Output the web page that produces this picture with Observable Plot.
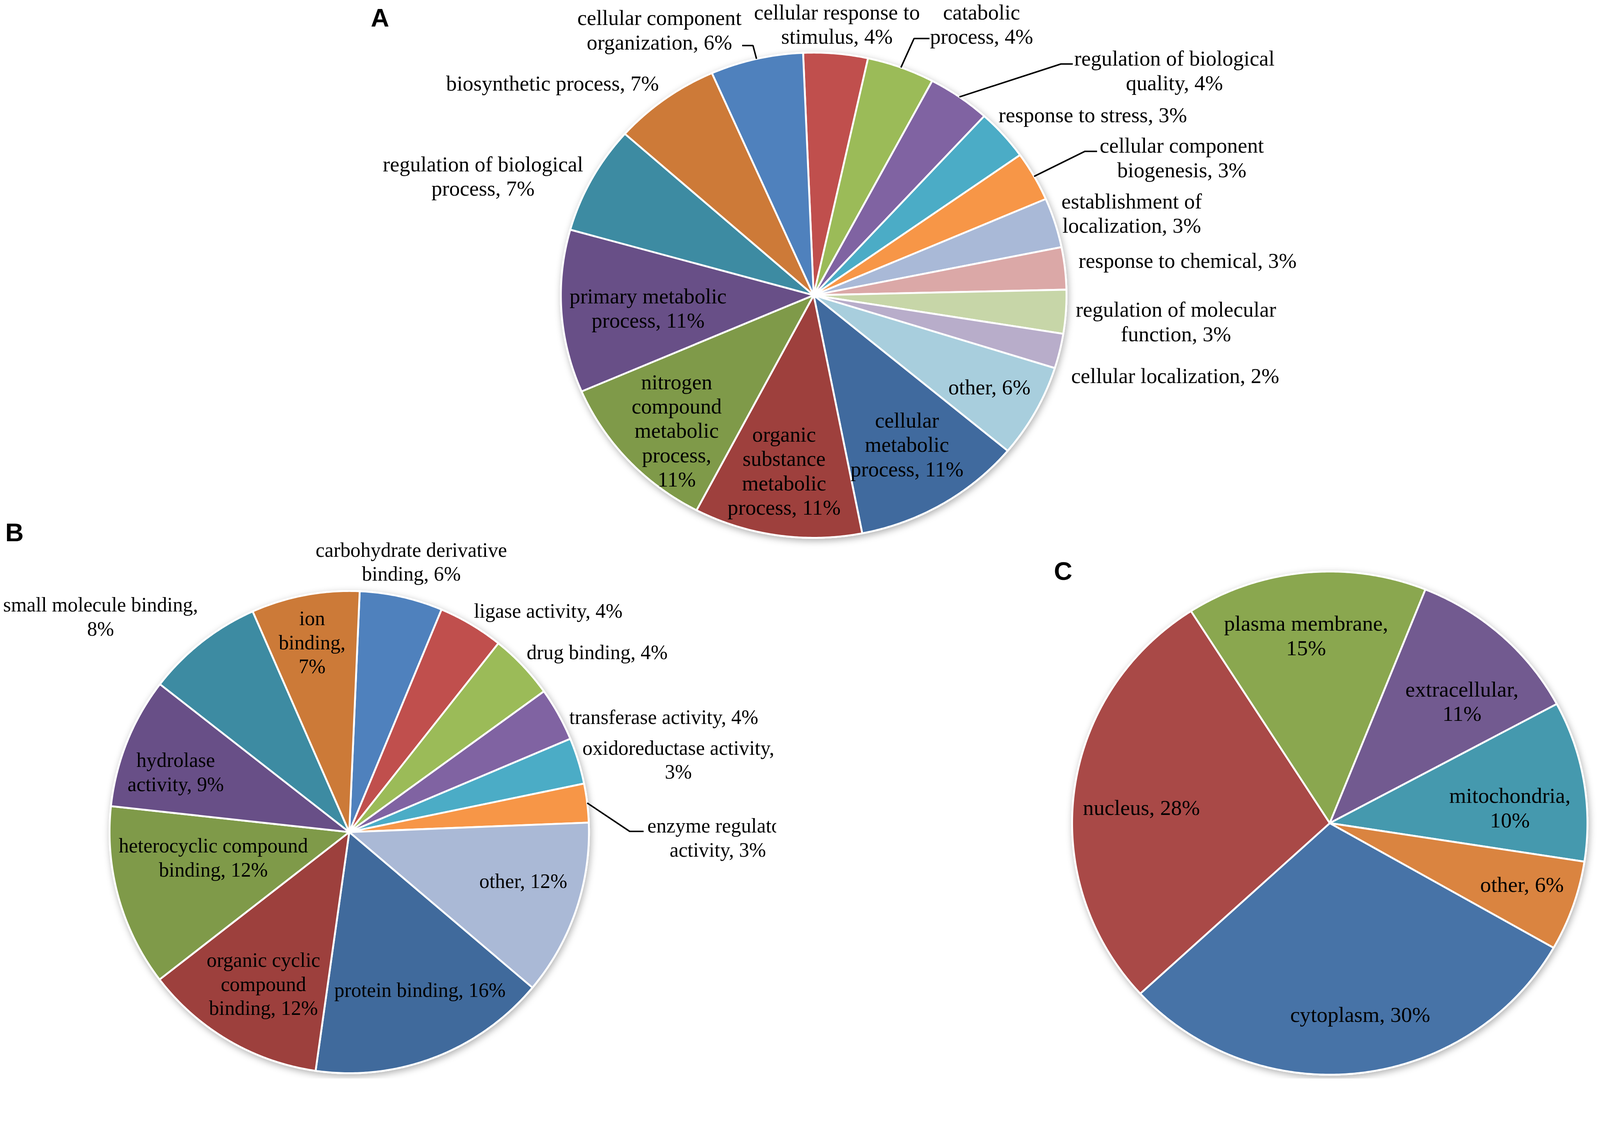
<!DOCTYPE html>
<html>
<head>
<meta charset="utf-8">
<script src="https://cdn.jsdelivr.net/npm/d3@7"></script>
<script src="https://cdn.jsdelivr.net/npm/@observablehq/plot@0.6"></script>
<style>
  html, body { margin: 0; padding: 0; background: #fff; }
  #chart svg { display: block; }
</style>
</head>
<body>
<div id="chart"></div>
<script>
// ---------------- DATA ----------------
// A: biological process (clockwise order of the slices)
const namesA = [
  "cellular response to\nstimulus", "catabolic\nprocess", "regulation of biological\nquality",
  "response to stress", "cellular component\nbiogenesis", "establishment of\nlocalization",
  "response to chemical", "regulation of molecular\nfunction", "cellular localization",
  "other", "cellular\nmetabolic\nprocess", "organic\nsubstance\nmetabolic\nprocess",
  "nitrogen\ncompound\nmetabolic\nprocess", "primary metabolic\nprocess",
  "regulation of biological\nprocess", "biosynthetic process", "cellular component\norganization"
];
const valuesA = [4.1, 4.3, 4.0, 3.4, 3.3, 3.3, 2.8, 2.9, 2.3, 6.2, 10.8, 10.7, 10.8, 10.8, 7.2, 6.8, 5.9];

// B: molecular function
const namesB = [
  "carbohydrate derivative\nbinding", "ligase activity", "drug binding", "transferase activity",
  "oxidoreductase activity", "enzyme regulator\nactivity", "other", "protein binding",
  "organic cyclic\ncompound\nbinding", "heterocyclic compound\nbinding", "hydrolase\nactivity",
  "small molecule binding", "ion\nbinding"
];
const valuesB = [5.6, 4.4, 4.4, 3.6, 3.1, 2.6, 11.8, 16.1, 12.3, 12.2, 8.8, 7.9, 7.3];

// C: cellular component
const namesC = ["cytoplasm", "nucleus", "plasma membrane", "extracellular", "mitochondria", "other"];
const valuesC = [29.9, 27.8, 15.1, 11.1, 10.3, 5.8];

// labels whose percentage goes on its own line
const pctOnNewLine = new Set([
  "nitrogen\ncompound\nmetabolic\nprocess", "small molecule binding", "ion\nbinding",
  "oxidoreductase activity", "plasma membrane", "extracellular", "mitochondria"
]);

// ---------------- STYLE ----------------
const colorsA = ["#C0504D","#9BBB59","#8064A2","#4BACC6","#F79646","#A9B9D7","#DBA8A7","#C7D6A8",
                 "#B8ADCA","#A8CEDD","#416B9E","#9E3F3C","#7F9A48","#674F87","#3C8BA2","#CD7A38","#4F81BD"];
const colorsB = ["#4F81BD","#C0504D","#9BBB59","#8064A2","#4BACC6","#F79646","#AAB9D6","#3F6A9C",
                 "#9D403D","#7F9A48","#674F87","#3C8BA2","#CC7A38"];
const colorsC = ["#4673A7","#A94846","#8AA74F","#725A90","#4499AE","#DA843F"];

// ---------------- LAYOUT ----------------
const W = 4272, H = 2881;
// label anchors in units of the pie radii, relative to the pie centre
const labelPosA = [[0.092,-1.119],[0.664,-1.119],[1.427,-0.928],[1.104,-0.745],[1.456,-0.569],
  [1.258,-0.340],[1.479,-0.145],[1.433,0.107],[1.430,0.330],[0.695,0.377],[0.369,0.614],
  [-0.117,0.722],[-0.542,0.556],[-0.655,0.052],[-1.308,-0.493],[-1.033,-0.875],[-0.610,-1.095]];
const labelPosB = [[0.259,-1.124],[0.830,-0.921],[1.034,-0.750],[1.312,-0.480],[1.373,-0.303],
  [1.5375,0.020],[0.726,0.200],[0.295,0.651],[-0.358,0.627],[-0.567,0.103],[-0.724,-0.252],
  [-1.0375,-0.897],[-0.155,-0.790]];
const labelPosC = [[0.118,0.759],[-0.731,-0.063],[-0.092,-0.747],[0.513,-0.485],[0.699,-0.0625],[0.746,0.243]];
const leadersA = [
  {i: 1, elbow: [0.397,-1.058], end: [0.458,-1.058]},
  {i: 2, elbow: [0.978,-0.953], end: [1.025,-0.953]},
  {i: 4, elbow: [1.073,-0.593], end: [1.121,-0.593]},
  {i: 16, elbow: [-0.240,-1.029], end: [-0.283,-1.029]}
];
const leadersB = [{i: 5, elbow: [1.170,-0.003], end: [1.228,-0.003]}];

const pies = [
  {key: "A", names: namesA, values: valuesA, colors: colorsA, start: -2.4, cx: 2172, cy: 788, rx: 675, ry: 648,
   labelPos: labelPosA, leaders: leadersA, letter: [1014, 49], fontSize: 57, lineHeight: 1.14},
  {key: "B", names: namesB, values: valuesB, colors: colorsB, start: 2.5, cx: 932, cy: 2222, rx: 640, ry: 644,
   labelPos: labelPosB, leaders: leadersB, letter: [38, 1423], fontSize: 54, lineHeight: 1.19},
  {key: "C", names: namesC, values: valuesC, colors: colorsC, start: 119.7, cx: 3550, cy: 2198, rx: 688, ry: 672,
   labelPos: labelPosC, leaders: [], letter: [2838, 1527], fontSize: 58, lineHeight: 1.12}
];

const fmt = (name, v) => name + (pctOnNewLine.has(name) ? ",\n" : ", ") + Math.round(v) + "%";

const sliceRows = [], labelRows = [], leaderRows = [], letterRows = [];
for (const p of pies) {
  const a0 = p.start * Math.PI / 180;
  const arcs = d3.pie().sort(null).value(d => d).startAngle(a0).endAngle(a0 + 2 * Math.PI)(p.values);
  const px = a => p.cx + p.rx * Math.sin(a);
  const py = a => p.cy - p.ry * Math.cos(a);
  arcs.forEach((arc, i) => {
    const id = p.key + i, fill = p.colors[i];
    const n = Math.max(4, Math.ceil((arc.endAngle - arc.startAngle) / (Math.PI / 360)));
    sliceRows.push({id, pie: p.key, x: p.cx, y: p.cy, fill});
    for (let j = 0; j <= n; j++) {
      const a = arc.startAngle + (arc.endAngle - arc.startAngle) * j / n;
      sliceRows.push({id, pie: p.key, x: px(a), y: py(a), fill});
    }
    sliceRows.push({id, pie: p.key, x: p.cx, y: p.cy, fill});
    const [ux, uy] = p.labelPos[i];
    labelRows.push({pie: p.key, x: p.cx + ux * p.rx, y: p.cy + uy * p.ry, text: fmt(p.names[i], p.values[i])});
  });
  for (const l of p.leaders) {
    const arc = arcs[l.i], mid = (arc.startAngle + arc.endAngle) / 2, id = "L" + p.key + l.i;
    leaderRows.push({id, x: px(mid), y: py(mid)});
    leaderRows.push({id, x: p.cx + l.elbow[0] * p.rx, y: p.cy + l.elbow[1] * p.ry});
    leaderRows.push({id, x: p.cx + l.end[0] * p.rx, y: p.cy + l.end[1] * p.ry});
  }
  letterRows.push({x: p.letter[0], y: p.letter[1], text: p.key});
}

const marks = [];
for (const p of pies) {
  marks.push(Plot.line(sliceRows.filter(d => d.pie === p.key), {
    x: "x", y: "y", z: "id", fill: "fill", stroke: "white", strokeWidth: 5,
    strokeLinejoin: "round", curve: "linear"
  }));
}
marks.push(Plot.line(leaderRows, {x: "x", y: "y", z: "id", stroke: "black", strokeWidth: 4,
  strokeLinejoin: "miter", strokeLinecap: "butt"}));
for (const p of pies) {
  marks.push(Plot.text(labelRows.filter(d => d.pie === p.key), {
    x: "x", y: "y", text: "text", fontFamily: "Liberation Serif", fontSize: p.fontSize,
    lineHeight: p.lineHeight, fill: "black"
  }));
}
marks.push(Plot.text(letterRows, {x: "x", y: "y", text: "text", fontFamily: "Liberation Sans",
  fontWeight: "bold", fontSize: 68, fill: "black"}));

const svg = Plot.plot({
  width: W, height: H, margin: 0,
  x: {domain: [0, W], range: [0, W], axis: null},
  y: {domain: [0, H], range: [0, H], axis: null},
  color: {type: "identity"},
  style: {background: "white"},
  marks
});

// soft shadow under the pies and clipping of panel B's labels (the source panel is cut on the right)
const ns = "http://www.w3.org/2000/svg";
const defs = document.createElementNS(ns, "defs");
const filter = document.createElementNS(ns, "filter");
filter.setAttribute("id", "pieShadow");
filter.setAttribute("x", "-10%"); filter.setAttribute("y", "-10%");
filter.setAttribute("width", "120%"); filter.setAttribute("height", "125%");
const fe = document.createElementNS(ns, "feDropShadow");
fe.setAttribute("dx", "3"); fe.setAttribute("dy", "6");
fe.setAttribute("stdDeviation", "9");
fe.setAttribute("flood-color", "#000"); fe.setAttribute("flood-opacity", "0.3");
filter.appendChild(fe);
defs.appendChild(filter);
const clip = document.createElementNS(ns, "clipPath");
clip.setAttribute("id", "clipB");
const rect = document.createElementNS(ns, "rect");
rect.setAttribute("x", 0); rect.setAttribute("y", 1380);
rect.setAttribute("width", 2072); rect.setAttribute("height", 1501);
clip.appendChild(rect);
defs.appendChild(clip);
svg.insertBefore(defs, svg.firstChild);
const lineGroups = svg.querySelectorAll('g[aria-label="line"]');
for (let k = 0; k < 3 && k < lineGroups.length; k++) lineGroups[k].setAttribute("filter", "url(#pieShadow)");
const textGroups = svg.querySelectorAll('g[aria-label="text"]');
if (textGroups.length > 1) textGroups[1].setAttribute("clip-path", "url(#clipB)");

document.getElementById("chart").appendChild(svg);
</script>
</body>
</html>
